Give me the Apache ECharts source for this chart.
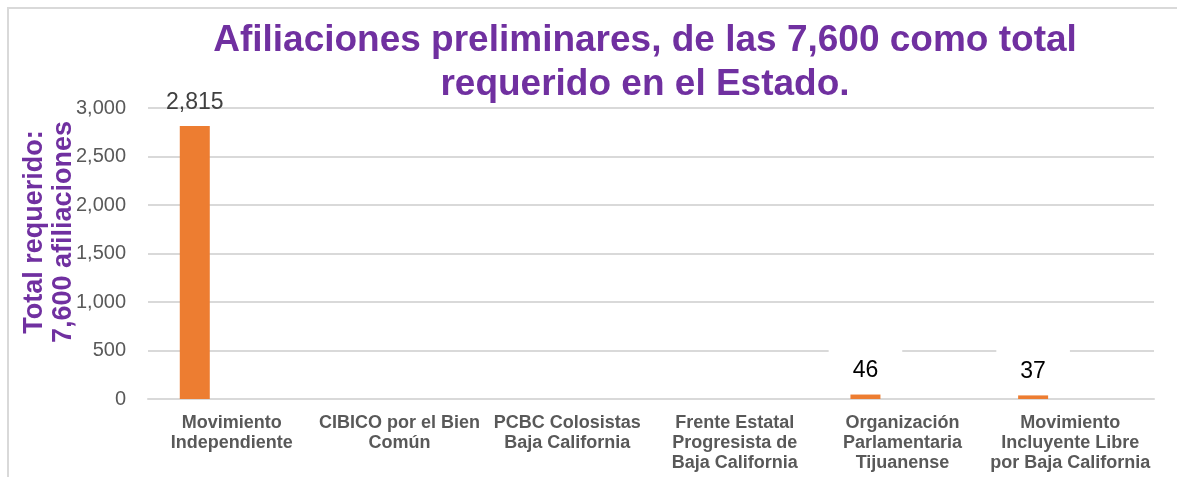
<!DOCTYPE html>
<html>
<head>
<meta charset="utf-8">
<script src="https://cdn.jsdelivr.net/npm/echarts@6/dist/echarts.min.js"></script>
<style>
  html, body { margin: 0; padding: 0; background: #fff; }
  #chart { width: 1177px; height: 477px; }
</style>
</head>
<body>
<div id="chart"></div>
<script>
const categories = [
  'Movimiento\nIndependiente',
  'CIBICO por el Bien\nComún',
  'PCBC Colosistas\nBaja California',
  'Frente Estatal\nProgresista de\nBaja California',
  'Organización\nParlamentaria\nTijuanense',
  'Movimiento\nIncluyente Libre\npor Baja California'
];
const afiliaciones = [2815, null, null, null, 46, 37];
const yTicks = { min: 0, max: 3000, interval: 500 };

const purple = '#7030A0';
const chart = echarts.init(document.getElementById('chart'));

const fmt = v => v.toLocaleString('en-US');

chart.setOption({
  animation: false,
  title: {
    text: 'Afiliaciones preliminares, de las 7,600 como total\nrequerido en el Estado.',
    left: 640,
    top: 14,
    textAlign: 'center',
    textStyle: {
      fontFamily: 'Liberation Sans',
      fontSize: 37,
      fontWeight: 'bold',
      color: purple,
      lineHeight: 44
    }
  },
  graphic: [
    {
      type: 'rect',
      shape: { x: 8, y: 8, width: 1200, height: 500 },
      style: { fill: null, stroke: '#d9d9d9', lineWidth: 2 },
      silent: true
    },
    {
      type: 'text',
      x: 49,
      y: 232,
      rotation: Math.PI / 2,
      z: 10,
      style: {
        text: 'Total requerido:\n7,600 afiliaciones',
        font: 'bold 27px "Liberation Sans"',
        fill: purple,
        align: 'center',
        verticalAlign: 'middle',
        lineHeight: 29
      }
    }
  ],
  grid: { left: 148, right: 23, top: 108, bottom: 78 },
  xAxis: {
    type: 'category',
    data: categories,
    axisLine: { lineStyle: { color: '#d9d9d9', width: 2 } },
    axisTick: { show: false },
    axisLabel: {
      interval: 0,
      margin: 14,
      fontFamily: 'Liberation Sans',
      fontSize: 18,
      fontWeight: 'bold',
      color: '#595959',
      lineHeight: 20
    }
  },
  yAxis: {
    type: 'value',
    min: yTicks.min,
    max: yTicks.max,
    interval: yTicks.interval,
    axisLine: { show: false },
    axisTick: { show: false },
    axisLabel: {
      formatter: v => fmt(v),
      margin: 22,
      fontFamily: 'Liberation Sans',
      fontSize: 20,
      color: '#595959'
    },
    splitLine: { lineStyle: { color: '#d9d9d9', width: 2 } }
  },
  series: [
    {
      type: 'bar',
      barWidth: 30,
      barGap: '147%',
      itemStyle: { color: '#ED7D31' },
      label: {
        show: true,
        position: 'top',
        distance: 8,
        formatter: p => fmt(p.value),
        fontFamily: 'Liberation Sans',
        fontSize: 23,
        color: '#000',
        backgroundColor: '#fff',
        padding: [20, 24, 4, 24]
      },
      data: afiliaciones.map((v, i) => i === 0
        ? { value: v, label: { color: '#404040', backgroundColor: 'transparent', padding: [0, 0, 4, 0] } }
        : v),
      z: 3
    },
    {
      type: 'bar',
      barWidth: 30,
      data: afiliaciones.map(() => null)
    }
  ]
});
</script>
</body>
</html>
